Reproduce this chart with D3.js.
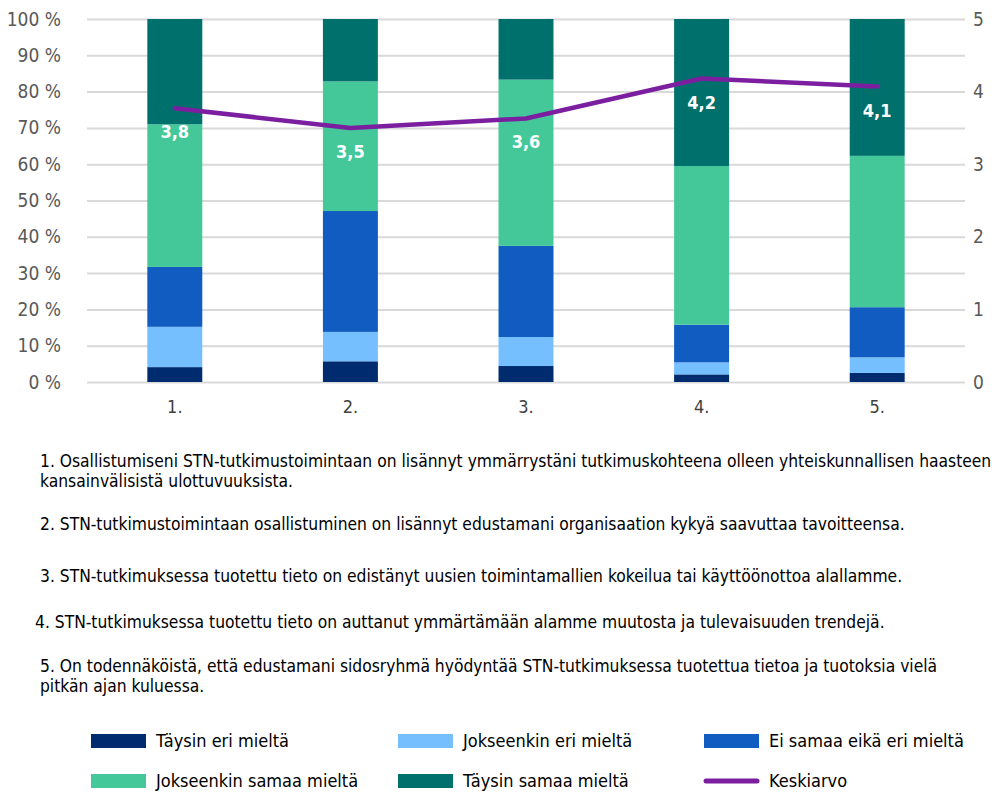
<!DOCTYPE html>
<html>
<head>
<meta charset="utf-8">
<script src="https://cdn.jsdelivr.net/npm/d3@7"></script>
<style>
  body { margin: 0; background: #fff; }
  svg text { font-family: "Liberation Sans Narrow", "DejaVu Sans Condensed", "Open Sans", sans-serif; }
</style>
</head>
<body>
<svg id="chart" width="998" height="794"></svg>
<script>
// data (percent of answers)
const categories = ["1.", "2.", "3.", "4.", "5."];
const seriesNames = ["Täysin eri mieltä", "Jokseenkin eri mieltä", "Ei samaa eikä eri mieltä", "Jokseenkin samaa mieltä", "Täysin samaa mieltä"];
const taysinEri = [4.1, 5.7, 4.4, 2.1, 2.5];
const jokseenkinEri = [11.1, 8.1, 8.0, 3.3, 4.3];
const eiSamaaEikaEri = [16.5, 33.3, 25.1, 10.4, 13.8];
const jokseenkinSamaa = [39.3, 35.7, 45.8, 43.7, 41.7];
const taysinSamaa = [29.0, 17.2, 16.7, 40.5, 37.7];
const keskiarvo = [3.77, 3.50, 3.63, 4.18, 4.07];
const leftTicks = [0, 10, 20, 30, 40, 50, 60, 70, 80, 90, 100];
const rightTicks = [0, 1, 2, 3, 4, 5];
const notes = [
  ["1. Osallistumiseni STN-tutkimustoimintaan on lisännyt ymmärrystäni tutkimuskohteena olleen yhteiskunnallisen haasteen", "kansainvälisistä ulottuvuuksista."],
  ["2. STN-tutkimustoimintaan osallistuminen on lisännyt edustamani organisaation kykyä saavuttaa tavoitteensa."],
  ["3. STN-tutkimuksessa tuotettu tieto on edistänyt uusien toimintamallien kokeilua tai käyttöönottoa alallamme."],
  ["4. STN-tutkimuksessa tuotettu tieto on auttanut ymmärtämään alamme muutosta ja tulevaisuuden trendejä."],
  ["5. On todennäköistä, että edustamani sidosryhmä hyödyntää STN-tutkimuksessa tuotettua tietoa ja tuotoksia vielä", "pitkän ajan kuluessa."]
];

const colors = ["#002b6e", "#75bfff", "#115cc0", "#44c89a", "#00706d"];
const lineColor = "#7b1fa0";

const svg = d3.select("#chart");
const plotLeft = 87, plotRight = 965, plotTop = 19, plotBottom = 382;

const rows = categories.map((c, i) => ({
  cat: c,
  s0: taysinEri[i], s1: jokseenkinEri[i], s2: eiSamaaEikaEri[i], s3: jokseenkinSamaa[i], s4: taysinSamaa[i]
}));
const keys = ["s0", "s1", "s2", "s3", "s4"];
const stacked = d3.stack().keys(keys)(rows);

const x = d3.scaleBand().domain(categories).range([plotLeft, plotRight]).paddingInner(0.687).paddingOuter(0.3435);
const y = d3.scaleLinear().domain([0, 100]).range([plotBottom, plotTop]);
const y2 = d3.scaleLinear().domain([0, 5]).range([plotBottom, plotTop]);

// gridlines
svg.append("g")
  .attr("transform", "translate(" + plotLeft + ",0)")
  .call(d3.axisLeft(y).tickValues(leftTicks).tickSize(-(plotRight - plotLeft)).tickFormat(""))
  .call(g => g.select(".domain").remove())
  .call(g => g.selectAll("line").attr("stroke", "#d9d9d9").attr("stroke-width", 2));

// left axis
svg.append("g")
  .attr("transform", "translate(" + plotLeft + ",0)")
  .call(d3.axisLeft(y).tickValues(leftTicks).tickSize(0).tickPadding(26).tickFormat(d => d + " %"))
  .call(g => g.select(".domain").remove())
  .call(g => g.selectAll("text").attr("fill", "#595959").style("font-size", "19px"));

// right axis
svg.append("g")
  .attr("transform", "translate(" + plotRight + ",0)")
  .call(d3.axisRight(y2).tickValues(rightTicks).tickSize(0).tickPadding(8).tickFormat(d3.format("d")))
  .call(g => g.select(".domain").remove())
  .call(g => g.selectAll("text").attr("fill", "#595959").style("font-size", "19px"));

// x axis
svg.append("g")
  .attr("transform", "translate(0," + plotBottom + ")")
  .call(d3.axisBottom(x).tickSize(0).tickPadding(18))
  .call(g => g.select(".domain").remove())
  .call(g => g.selectAll("text").attr("fill", "#404040").style("font-size", "18px"));

// bars
svg.append("g").selectAll("g")
  .data(stacked)
  .join("g")
  .attr("fill", (d, i) => colors[i])
  .selectAll("rect")
  .data(d => d)
  .join("rect")
  .attr("x", d => x(d.data.cat))
  .attr("y", d => y(d[1]))
  .attr("width", x.bandwidth())
  .attr("height", d => y(d[0]) - y(d[1]));

// mean line
const line = d3.line()
  .x((d, i) => x(categories[i]) + x.bandwidth() / 2)
  .y(d => y2(d));
svg.append("path")
  .datum(keskiarvo)
  .attr("d", line)
  .attr("fill", "none")
  .attr("stroke", lineColor)
  .attr("stroke-width", 4.5)
  .attr("stroke-linecap", "round")
  .attr("stroke-linejoin", "round");

svg.append("g").selectAll("text")
  .data(keskiarvo)
  .join("text")
  .attr("x", (d, i) => x(categories[i]) + x.bandwidth() / 2)
  .attr("y", d => y2(d) + 30)
  .attr("text-anchor", "middle")
  .attr("fill", "#fff")
  .style("font-size", "18px")
  .style("font-weight", "bold")
  .text(d => d3.format(".1f")(d).replace(".", ","));

// notes under the chart
const noteY = [461, 524, 576, 622, 666];
const noteX = [40, 40, 40, 35, 40];
notes.forEach((lines, i) => {
  const t = svg.append("text")
    .attr("x", noteX[i])
    .attr("y", noteY[i] + 6)
    .attr("fill", "#000")
    .style("font-size", "17.3px");
  lines.forEach((l, j) => {
    t.append("tspan").attr("x", noteX[i]).attr("dy", j === 0 ? 0 : 20).text(l);
  });
});

// legend
const legendItems = seriesNames.map((n, i) => ({ name: n, color: colors[i], type: "rect" }));
legendItems.push({ name: "Keskiarvo", color: lineColor, type: "line" });
const legendX = [91, 398, 704];
const legendY = [741, 781];
const lg = svg.append("g").selectAll("g")
  .data(legendItems)
  .join("g")
  .attr("transform", (d, i) => "translate(" + legendX[i % 3] + "," + legendY[Math.floor(i / 3)] + ")");
lg.filter(d => d.type === "rect").append("rect")
  .attr("x", 0).attr("y", -7).attr("width", 55).attr("height", 14)
  .attr("fill", d => d.color);
lg.filter(d => d.type === "line").append("line")
  .attr("x1", 2).attr("x2", 53).attr("y1", 0).attr("y2", 0)
  .attr("stroke", d => d.color).attr("stroke-width", 5).attr("stroke-linecap", "round");
lg.append("text")
  .attr("x", 65).attr("y", 0).attr("dy", "0.35em")
  .attr("fill", "#000")
  .style("font-size", "18px")
  .text(d => d.name);
</script>
</body>
</html>
